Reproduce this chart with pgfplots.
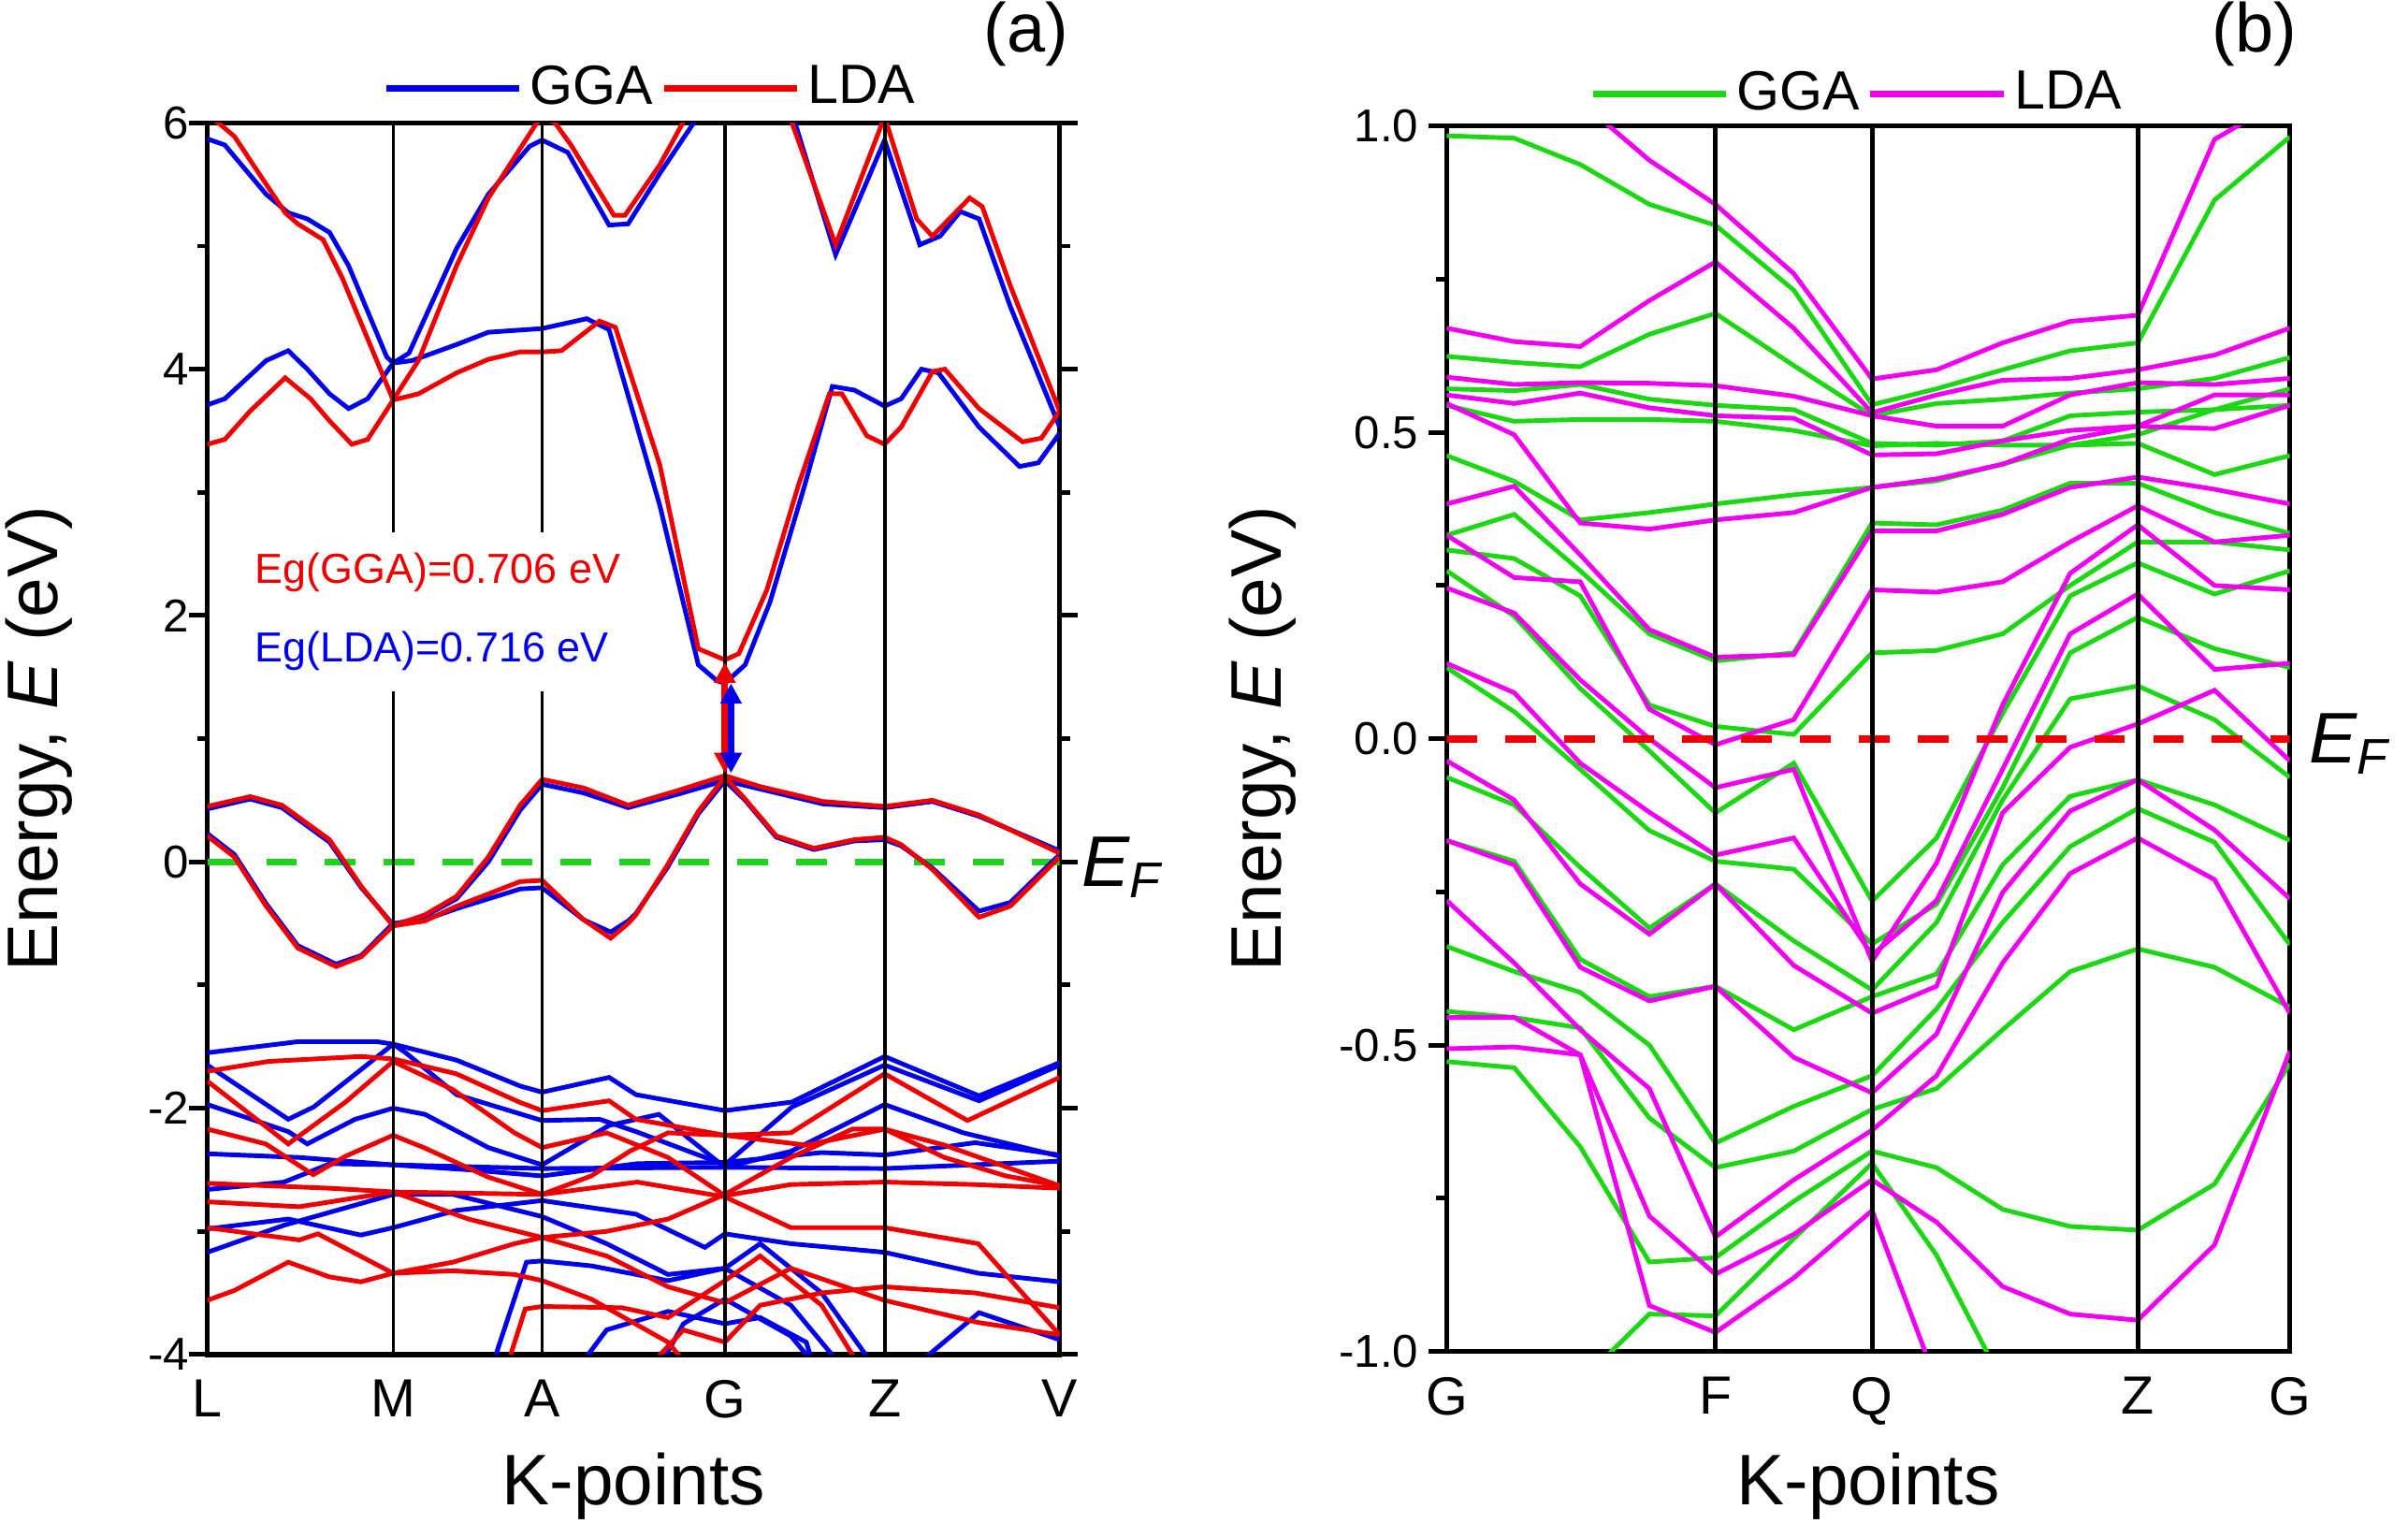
\documentclass[border=0pt]{standalone}
\usepackage{pgfplots}
\pgfplotsset{compat=1.18}
\usepackage{pgfplotstable}
\usepackage{fontspec}
\setmainfont{Liberation Sans}
\usetikzlibrary{arrows.meta}

\definecolor{bblue}{RGB}{0,0,235}
\definecolor{rred}{RGB}{238,0,0}
\definecolor{ggreen}{RGB}{30,215,20}
\definecolor{mmag}{RGB}{240,0,240}
\definecolor{efgreen}{RGB}{30,210,30}

% panel (b): one row per band, transposed below
\pgfplotstableread{
name c0 c1 c2 c3 c4 c5 c6 c7 c8 c9 c10 c11 c12
x 0 44 87 132 175 226 277 319 362 406 450 500 549
g1 0.984 0.98 0.937 0.872 0.838 0.732 0.545 0.571 0.602 0.633 0.646 0.879 0.982
g2 0.624 0.614 0.607 0.66 0.694 0.609 0.527 0.547 0.554 0.564 0.571 0.588 0.622
g3 0.571 0.568 0.578 0.554 0.544 0.537 0.482 0.479 0.486 0.527 0.533 0.537 0.571
g4 0.544 0.518 0.521 0.521 0.518 0.503 0.478 0.482 0.479 0.479 0.482 0.431 0.462
g5 0.462 0.42 0.357 0.369 0.383 0.398 0.41 0.421 0.448 0.479 0.496 0.537 0.544
g6 0.332 0.366 0.274 0.171 0.127 0.14 0.352 0.349 0.373 0.417 0.417 0.369 0.335
g7 0.308 0.294 0.233 0.055 0.02 0.007 0.14 0.144 0.171 0.25 0.321 0.321 0.308
g8 0.274 0.2 0.082 -0.02 -0.121 -0.04 -0.265 -0.162 0.041 0.233 0.287 0.236 0.274
g9 0.116 0.044 -0.05 -0.15 -0.2 -0.213 -0.335 -0.27 -0.08 0.14 0.198 0.147 0.116
g10 -0.063 -0.108 -0.21 -0.309 -0.237 -0.33 -0.41 -0.3 -0.1 0.065 0.086 0.031 -0.063
g11 -0.166 -0.2 -0.36 -0.421 -0.404 -0.475 -0.421 -0.384 -0.206 -0.094 -0.067 -0.108 -0.166
g12 -0.339 -0.38 -0.414 -0.5 -0.66 -0.6 -0.55 -0.441 -0.3 -0.176 -0.114 -0.169 -0.336
g13 -0.445 -0.455 -0.472 -0.619 -0.7 -0.673 -0.605 -0.571 -0.475 -0.38 -0.343 -0.373 -0.438
g14 -0.527 -0.537 -0.666 -0.854 -0.847 -0.755 -0.673 -0.7 -0.768 -0.796 -0.802 -0.727 -0.53
g15 -1.3 -1.2 -1.05 -0.939 -0.942 -0.816 -0.693 -0.843 -1.05 -1.2 -1.3 -1.3 -1.3
m1 1.3 1.15 1.04 0.944 0.872 0.759 0.587 0.602 0.646 0.681 0.691 0.978 1.05
m2 0.67 0.648 0.64 0.715 0.778 0.67 0.532 0.561 0.585 0.588 0.602 0.626 0.67
m3 0.59 0.578 0.581 0.58 0.576 0.559 0.527 0.51 0.51 0.561 0.581 0.578 0.588
m4 0.561 0.547 0.564 0.54 0.527 0.523 0.463 0.465 0.486 0.503 0.51 0.561 0.561
m5 0.547 0.496 0.352 0.342 0.357 0.369 0.41 0.424 0.448 0.489 0.51 0.506 0.544
m6 0.383 0.412 0.3 0.178 0.133 0.137 0.339 0.339 0.366 0.41 0.427 0.407 0.383
m7 0.332 0.263 0.256 0.048 -0.01 0.031 0.243 0.239 0.256 0.321 0.38 0.321 0.332
m8 0.246 0.205 0.096 0.0 -0.08 -0.05 -0.363 -0.203 0.055 0.27 0.349 0.25 0.243
m9 0.123 0.075 -0.04 -0.12 -0.19 -0.162 -0.353 -0.264 -0.05 0.171 0.236 0.113 0.123
m10 -0.036 -0.1 -0.237 -0.319 -0.237 -0.37 -0.448 -0.404 -0.121 -0.014 0.024 0.079 -0.036
m11 -0.166 -0.206 -0.373 -0.428 -0.404 -0.52 -0.578 -0.482 -0.251 -0.118 -0.067 -0.149 -0.261
m12 -0.264 -0.366 -0.475 -0.571 -0.813 -0.72 -0.639 -0.55 -0.366 -0.22 -0.162 -0.23 -0.448
m13 -0.455 -0.455 -0.516 -0.779 -0.874 -0.809 -0.72 -0.789 -0.894 -0.939 -0.949 -0.826 -0.51
m14 -0.506 -0.503 -0.516 -0.925 -0.969 -0.88 -0.77 -1.05 -1.2 -1.3 -1.3 -1.3 -1.3
}\tabraw
\pgfplotstabletranspose[colnames from=name]{\tabB}{\tabraw}

\pgfplotsset{
  bandaxis/.style={
    scale only axis, clip mode=individual,
    axis line style={line width=1pt},
    tick align=outside,
    xtick style={draw=none},
    ytick style={line width=0.9pt, black},
    major tick length=3.5pt, minor tick length=2pt,
    /pgf/number format/assume math mode=true,
    yticklabel style={font=\fontsize{9}{10}\selectfont},
    xticklabel style={font=\fontsize{10.5}{12}\selectfont, yshift=2pt},
    label style={font=\fontsize{14}{16}\selectfont},
    legend style={draw=none, fill=none, inner sep=0pt, legend columns=-1,
      font=\fontsize{10.8}{12}\selectfont, nodes={inner xsep=1.5pt}},
    legend image code/.code={\draw[#1] (0pt,0pt) -- (26pt,0pt);},
  },
  gb/.style={bblue, line width=0.9pt, forget plot},
  gr/.style={rred, line width=0.9pt, forget plot},
  gg/.style={ggreen, line width=0.9pt, forget plot},
  gm/.style={mmag, line width=0.9pt, forget plot},
}

\begin{document}
\begin{tikzpicture}
\useasboundingbox (0,0) rectangle (470.4pt,300.3pt);

% ---------------- panel (a) ----------------
\begin{axis}[bandaxis,
  at={(40.5pt,35.7pt)}, anchor=south west,
  width=166.5pt, height=240.6pt,
  xmin=0, xmax=555, ymin=-4, ymax=6,
  xtick={0,121,218,337,441,555}, xticklabels={L,M,A,G,Z,V},
  ytick={-4,-2,0,2,4,6}, minor ytick={-3,-1,1,3,5},
  ytick pos=both, yticklabel pos=left,
  yticklabel style={xshift=3.5pt},
  xlabel={K-points}, ylabel={Energy, \textit{E} (eV)},
  xlabel style={at={(axis description cs:0.5,-0.107)}, anchor=center},
  ylabel style={at={(axis description cs:-0.198,0.5)}, anchor=center},
  legend style={at={(axis description cs:0.523,1.0)}, anchor=south, yshift=0pt},
]
\addlegendimage{bblue, line width=1.2pt}\addlegendentry{GGA}
\addlegendimage{rred, line width=1.2pt}\addlegendentry{LDA}

% Fermi level
\addplot[efgreen, line width=1.3pt, dash pattern=on 6pt off 5.5pt, forget plot] coordinates {(0,0) (555,0)};

% blue (GGA) bands
\addplot[gb] coordinates {(0,5.87) (11.4,5.82) (38.3,5.42) (52.7,5.27) (65.1,5.22) (79.6,5.11) (92,4.84) (116.8,4.10) (121,4.05) (131.3,4.13) (162.3,4.98) (183,5.42) (209.9,5.81) (218,5.86) (234.7,5.76) (261.6,5.17) (274,5.18) (294.7,5.59) (316.7,6.0) (337,7.2) (382.7,6.0) (409.1,4.93) (441,5.86) (463.9,5.01) (477.1,5.08) (490.3,5.28) (502.5,5.22) (522.8,4.51) (555,3.53)};
\addplot[gb] coordinates {(0,3.71) (11.4,3.76) (38.3,4.07) (52.7,4.15) (65.1,4.0) (79.6,3.8) (92,3.68) (104.4,3.76) (121,4.05) (133.4,4.07) (162.3,4.2) (183,4.3) (218,4.33) (247.1,4.41) (261.6,4.32) (279,3.57) (294.7,2.89) (319.7,1.6) (331.9,1.47) (337,1.45) (350.2,1.6) (366.4,2.11) (388.8,3.05) (407,3.86) (421.3,3.83) (441,3.7) (451.8,3.76) (465,4.0) (476.1,3.97) (502.5,3.53) (528.9,3.21) (541.1,3.24) (555,3.48)};
\addplot[gb] coordinates {(0,0.43) (27.9,0.51) (48.6,0.44) (79.6,0.16) (100.3,-0.21) (121,-0.51) (141.7,-0.44) (162.3,-0.3) (183,0.0) (203.7,0.42) (218,0.63) (245,0.56) (274,0.44) (306.6,0.55) (337,0.66) (360.4,0.59) (401,0.47) (441,0.44) (472.1,0.49) (502.5,0.37) (555,0.09)};
\addplot[gb] coordinates {(0,0.23) (17.6,0.06) (38.3,-0.34) (58.9,-0.68) (83.8,-0.83) (100.3,-0.76) (121,-0.5) (141.7,-0.47) (162.3,-0.38) (183,-0.3) (203.7,-0.22) (218,-0.21) (245,-0.47) (262.6,-0.57) (274,-0.48) (279.1,-0.42) (299.4,-0.05) (319.7,0.39) (337,0.66) (350.2,0.5) (370.5,0.2) (394.9,0.1) (421.3,0.17) (441,0.18) (451.8,0.13) (472.1,-0.05) (502.5,-0.4) (522.8,-0.33) (555,0.06)};
\addplot[gb] coordinates {(0,-1.55) (58.9,-1.46) (110.6,-1.46) (121,-1.48) (162.3,-1.61) (203.7,-1.82) (218,-1.87) (261.6,-1.75) (279.1,-1.89) (337,-2.02) (380.7,-1.95) (441,-1.58) (502.5,-1.9) (555,-1.63)};
\addplot[gb] coordinates {(0,-1.65) (52.7,-2.09) (69.3,-1.99) (121,-1.48) (129.2,-1.55) (162.3,-1.89) (218,-2.1) (255.4,-2.09) (279.1,-2.19) (337,-2.46) (380.7,-1.99) (441,-1.65) (502.5,-1.94) (555,-1.65)};
\addplot[gb] coordinates {(0,-1.97) (52.7,-2.19) (65.1,-2.29) (96.2,-2.09) (121,-2.0) (141.7,-2.05) (183,-2.32) (218,-2.46) (261.6,-2.14) (294,-2.05) (337,-2.48) (380,-2.35) (441,-1.97) (492.3,-2.2) (555,-2.39)};
\addplot[gb] coordinates {(0,-2.37) (60,-2.4) (121,-2.46) (218,-2.49) (337,-2.48) (441,-2.49) (555,-2.43)};
\addplot[gb] coordinates {(0,-2.66) (50,-2.6) (80,-2.45) (121,-2.46) (170,-2.5) (218,-2.55) (280,-2.45) (337,-2.44) (400,-2.36) (441,-2.38) (500,-2.28) (555,-2.38)};
\addplot[gb] coordinates {(0,-2.98) (52.7,-2.9) (100,-3.03) (121,-2.97) (162,-2.83) (218,-2.75) (279,-2.86) (324,-3.13) (337,-3.02) (380,-3.1) (441,-3.17) (502,-3.34) (555,-3.41)};
\addplot[gb] coordinates {(0,-3.17) (50,-2.95) (121,-2.7) (160,-2.7) (218,-2.88) (260,-3.1) (300,-3.35) (337,-3.3) (380,-3.6) (420,-4.2)};
\addplot[gb] coordinates {(180,-4.3) (207.8,-3.25) (218,-3.24) (250,-3.28) (300,-3.4) (337,-3.3) (360,-3.1) (400,-3.5) (440,-4.2)};
\addplot[gb] coordinates {(290,-4.2) (310,-3.75) (337,-3.55) (380,-3.85) (410,-4.3)};
\addplot[gb] coordinates {(441,-4.2) (470,-4.0) (502.5,-3.66) (555,-3.88)};
\addplot[gb] coordinates {(230,-4.3) (260,-3.8) (300,-3.65) (337,-3.75) (360,-3.7) (390,-3.9) (400,-4.3)};

% red (LDA) bands
\addplot[gr] coordinates {(0,6.06) (7.2,6.0) (17.6,5.89) (50.7,5.27) (58.9,5.18) (75.5,5.05) (87.9,4.74) (121,3.75) (137.5,4.07) (162.3,4.84) (183,5.39) (214,5.99) (218,6.05) (226.4,6.0) (236.8,5.82) (264.7,5.25) (272,5.25) (294.7,5.66) (309.6,6.0) (337,7.0) (380.7,6.0) (409.1,5.01) (441,6.05) (461.9,5.22) (472.1,5.08) (496.4,5.39) (504.6,5.32) (522.8,4.68) (555,3.66)};
\addplot[gr] coordinates {(0,3.39) (11.4,3.43) (27.9,3.66) (50.7,3.93) (67.2,3.76) (79.6,3.58) (94.1,3.39) (104.4,3.43) (121,3.75) (137.5,3.8) (162.3,3.97) (183,4.08) (203.7,4.14) (218,4.14) (230.6,4.15) (255.4,4.39) (265.7,4.34) (294.7,3.22) (319.7,1.73) (337,1.64) (346.1,1.69) (364.4,2.21) (384.7,3.05) (405,3.8) (413.2,3.8) (429.4,3.46) (441,3.39) (451.8,3.53) (472.1,3.98) (480.2,4.0) (502.5,3.68) (530.9,3.41) (543.1,3.44) (555,3.66)};
\addplot[gr] coordinates {(0,0.45) (27.9,0.53) (48.6,0.46) (79.6,0.18) (100.3,-0.2) (121,-0.52) (141.7,-0.43) (162.3,-0.28) (183,0.04) (203.7,0.46) (218,0.67) (245,0.6) (274,0.46) (306.6,0.58) (337,0.70) (360.4,0.61) (401,0.49) (441,0.45) (472.1,0.5) (502.5,0.38) (555,0.07)};
\addplot[gr] coordinates {(0,0.21) (17.6,0.04) (38.3,-0.36) (58.9,-0.7) (83.8,-0.85) (100.3,-0.77) (121,-0.52) (141.7,-0.48) (162.3,-0.36) (183,-0.26) (203.7,-0.16) (218,-0.15) (245,-0.47) (262.6,-0.62) (274,-0.5) (279.1,-0.43) (299.4,-0.03) (319.7,0.41) (337,0.69) (350.2,0.51) (370.5,0.21) (394.9,0.11) (421.3,0.18) (441,0.2) (451.8,0.14) (472.1,-0.06) (502.5,-0.45) (522.8,-0.36) (555,0.04)};
\addplot[gr] coordinates {(0,-1.7) (40,-1.62) (100,-1.58) (121,-1.6) (162,-1.72) (203,-1.95) (218,-2.02) (261.6,-1.94) (279,-2.09) (337,-2.22) (380,-2.2) (441,-1.72) (495,-2.1) (555,-1.75)};
\addplot[gr] coordinates {(0,-1.78) (52.7,-2.29) (90,-1.95) (121,-1.62) (160,-1.85) (200,-2.2) (218,-2.32) (260,-2.2) (300,-2.4) (337,-2.71) (380,-2.62) (441,-2.6) (500,-2.62) (555,-2.65)};
\addplot[gr] coordinates {(0,-2.17) (38,-2.29) (69,-2.54) (90,-2.39) (121,-2.22) (141,-2.32) (183,-2.56) (218,-2.7) (250,-2.55) (275,-2.35) (300,-2.2) (337,-2.22) (390,-2.3) (441,-2.17) (480,-2.4) (520,-2.55) (555,-2.63)};
\addplot[gr] coordinates {(0,-2.61) (80,-2.65) (121,-2.68) (218,-2.7) (280,-2.6) (337,-2.72) (380,-2.97) (441,-2.97) (502,-3.1) (555,-3.84)};
\addplot[gr] coordinates {(0,-2.76) (60,-2.8) (121,-2.68) (170,-2.9) (218,-3.05) (260,-3.0) (300,-2.9) (337,-2.7) (380,-2.4) (420,-2.17) (441,-2.17) (480,-2.3) (555,-2.63)};
\addplot[gr] coordinates {(0,-2.97) (60,-3.07) (72,-3.02) (121,-3.34) (160,-3.25) (200,-3.1) (218,-3.05) (260,-3.2) (300,-3.45) (337,-3.58) (380,-3.3) (441,-3.56) (502,-3.74) (555,-3.84)};
\addplot[gr] coordinates {(0,-3.56) (17.6,-3.48) (52.7,-3.25) (79.6,-3.37) (100,-3.41) (121,-3.34) (160,-3.32) (200,-3.35) (218,-3.4) (250,-3.55) (300,-3.9) (320,-4.2)};
\addplot[gr] coordinates {(195,-4.1) (207,-3.63) (218,-3.61) (270,-3.62) (300,-3.7) (337,-3.4) (360,-3.2) (400,-3.6) (430,-4.2)};
\addplot[gr] coordinates {(280,-4.2) (310,-3.8) (337,-3.9) (360,-3.6) (400,-3.5) (441,-3.45) (500,-3.5) (555,-3.62)};

% high-symmetry lines
\addplot[black, line width=0.55pt, forget plot] coordinates {(121,-4) (121,6)};
\addplot[black, line width=0.55pt, forget plot] coordinates {(218,-4) (218,6)};
\addplot[black, line width=0.75pt, forget plot] coordinates {(337,-4) (337,6)};
\addplot[black, line width=0.75pt, forget plot] coordinates {(441,-4) (441,6)};

% gap arrows
\addplot[rred, line width=1.3pt, {Triangle[length=4pt,width=4pt]}-{Triangle[length=4pt,width=4pt]}, forget plot] coordinates {(337,0.72) (337,1.62)};
\addplot[bblue, line width=1.3pt, {Triangle[length=4pt,width=4pt]}-{Triangle[length=4pt,width=4pt]}, forget plot] coordinates {(341,0.72) (341,1.45)};

\node[fill=white, align=left, inner xsep=2pt, inner ysep=4pt, font=\fontsize{8.2}{15.4}\selectfont] at (axis cs:150,2.03)
  {\textcolor{rred}{Eg(GGA)=0.706 eV}\\\textcolor{bblue}{Eg(LDA)=0.716 eV}};
\node[anchor=base west, inner sep=0pt, xshift=4.1pt, font=\fontsize{14}{16}\selectfont] at (axis cs:555,-0.2) {\itshape E\textsubscript{F}};
\end{axis}

% ---------------- panel (b) ----------------
\begin{axis}[bandaxis,
  at={(282.6pt,36.3pt)}, anchor=south west,
  width=164.7pt, height=239.4pt,
  xmin=0, xmax=549, ymin=-1, ymax=1,
  xtick={0,175,277,450,549}, xticklabels={G,F,Q,Z,G},
  ytick={-1,-0.5,0,0.5,1}, minor ytick={-0.75,-0.25,0.25,0.75},
  ytick pos=left,
  yticklabel style={xshift=1.5pt, /pgf/number format/.cd, fixed, fixed zerofill, precision=1},
  xlabel={K-points}, ylabel={Energy, \textit{E} (eV)},
  xlabel style={at={(axis description cs:0.5,-0.11)}, anchor=center},
  ylabel style={at={(axis description cs:-0.2186,0.5)}, anchor=center},
  legend style={at={(axis description cs:0.49,1.0)}, anchor=south, yshift=-0.5pt},
]
\addlegendimage{ggreen, line width=1.2pt}\addlegendentry{GGA}
\addlegendimage{mmag, line width=1.2pt}\addlegendentry{LDA}

\pgfplotsinvokeforeach{1,...,15}{\addplot[gg] table[x=x, y=g#1] {\tabB};}
\pgfplotsinvokeforeach{1,...,14}{\addplot[gm] table[x=x, y=m#1] {\tabB};}

\addplot[rred, line width=1.5pt, dash pattern=on 6pt off 5.5pt, forget plot] coordinates {(0,0) (549,0)};

\addplot[black, line width=0.9pt, forget plot] coordinates {(175,-1) (175,1)};
\addplot[black, line width=0.9pt, forget plot] coordinates {(277,-1) (277,1)};
\addplot[black, line width=0.9pt, forget plot] coordinates {(450,-1) (450,1)};

\node[anchor=base west, inner sep=0pt, xshift=3.6pt, font=\fontsize{14}{16}\selectfont] at (axis cs:549,-0.04) {\itshape E\textsubscript{F}};
\end{axis}

\node[font=\fontsize{13.5}{16}\selectfont] at (200.4pt,293.7pt) {(a)};
\node[font=\fontsize{13.5}{16}\selectfont] at (440.4pt,293.7pt) {(b)};
\end{tikzpicture}
\end{document}
